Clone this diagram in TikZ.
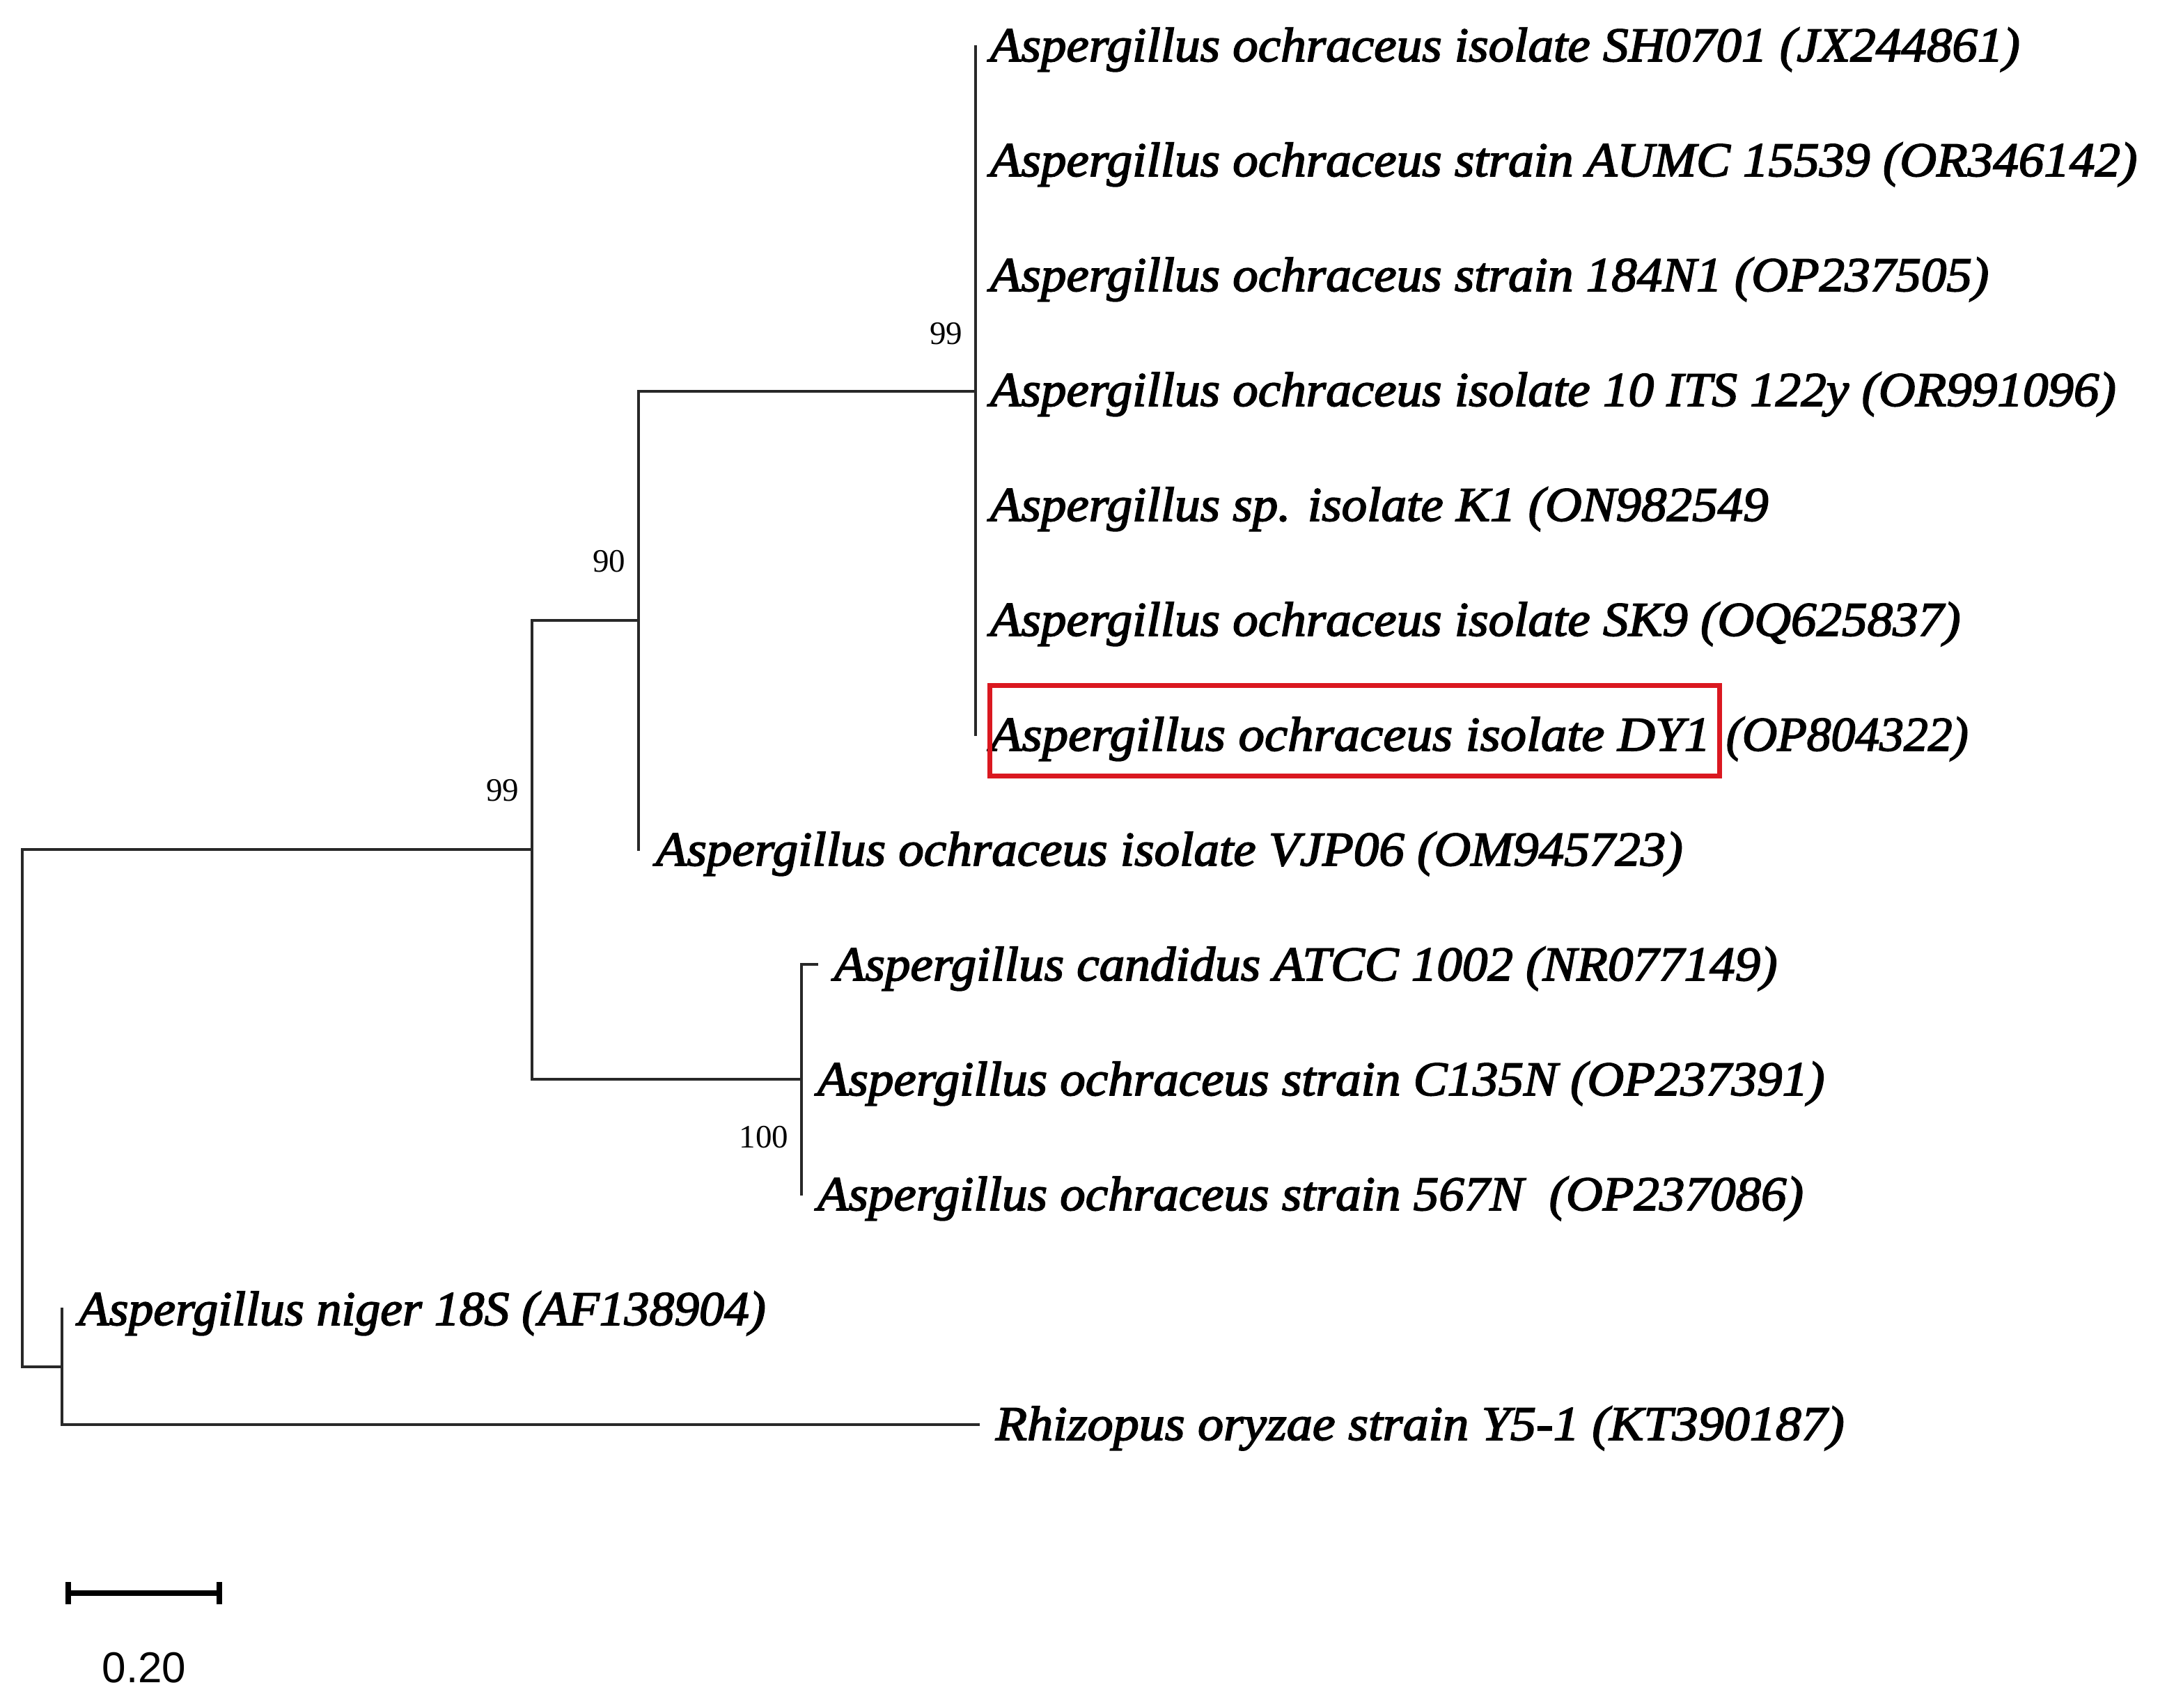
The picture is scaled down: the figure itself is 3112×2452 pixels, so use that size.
\documentclass[tikz,border=0pt]{standalone}
\usepackage{fontspec}
\newfontfamily\labfont{Liberation Serif}[FakeStretch=1.05,FakeBold=2.5]
\newfontfamily\bootfont{Liberation Serif}
\newfontfamily\sbarfont{Liberation Sans}
\definecolor{boxred}{RGB}{218,24,32}
\definecolor{treeline}{RGB}{40,40,40}
\begin{document}
\begin{tikzpicture}[x=0.25pt,y=-0.25pt,
  branch/.style={line width=0.9pt, draw=treeline, line cap=rect, line join=miter},
  leaf/.style={anchor=base west, inner sep=0pt, font=\labfont\itshape\fontsize{17.4}{17.4}\selectfont},
  boot/.style={anchor=east, inner sep=0pt, font=\bootfont\fontsize{11.75}{11.75}\selectfont},
  hlbox/.style={draw=boxred, line width=1.75pt},
  sbar/.style={line width=2pt, draw=black}]
\fill[white] (0,0) rectangle (3112,2452);
\useasboundingbox (0,0) rectangle (3112,2452);
% tree nodes
\coordinate (r) at (32,1220);
\coordinate (rb) at (32,1963);
\coordinate (n99) at (764,1220);
\coordinate (n99t) at (764,891);
\coordinate (n99b) at (764,1550);
\coordinate (n90) at (917,891);
\coordinate (n90t) at (917,562);
\coordinate (n90b) at (917,1220);
\coordinate (nA) at (1401,562);
\coordinate (nAt) at (1401,67);
\coordinate (nAb) at (1401,1055);
\coordinate (nC) at (1151,1550);
\coordinate (nCt) at (1151,1385);
\coordinate (nCb) at (1151,1715);
\coordinate (cand) at (1173,1385);
\coordinate (nO) at (89,1963);
\coordinate (nOt) at (89,1880);
\coordinate (nOb) at (89,2046);
\coordinate (rhi) at (1405,2046);
% branches
\draw[branch] (n99) -- (r) -- (rb) -- (nO);
\draw[branch] (n99t) -- (n99b);
\draw[branch] (n99t) -- (n90);
\draw[branch] (n99b) -- (nC);
\draw[branch] (n90t) -- (n90b);
\draw[branch] (n90t) -- (nA);
\draw[branch] (nAt) -- (nAb);
\draw[branch] (nCt) -- (nCb);
\draw[branch] (nCt) -- (cand);
\draw[branch] (nOt) -- (nOb) -- (rhi);
% leaf labels
\node[leaf] (L0) at (1421,88) {Aspergillus ochraceus isolate SH0701 (JX244861)};
\node[leaf] (L1) at (1421,253) {Aspergillus ochraceus strain AUMC 15539 (OR346142)};
\node[leaf] (L2) at (1421,418) {Aspergillus ochraceus strain 184N1 (OP237505)};
\node[leaf] (L3) at (1421,583) {Aspergillus ochraceus isolate 10 ITS 122y (OR991096)};
\node[leaf] (L4) at (1421,748) {Aspergillus sp. isolate K1 (ON982549};
\node[leaf] (L5) at (1421,913) {Aspergillus ochraceus isolate SK9 (OQ625837)};
\node[leaf] (L6) at (1421,1078) {\addfontfeature{FakeStretch=1.075}Aspergillus ochraceus isolate DY1};
\node[leaf] (L6a) at (2478,1078) {\addfontfeature{FakeStretch=1.0}(OP804322)};
\node[leaf] (L7) at (941,1243) {Aspergillus ochraceus isolate VJP06 (OM945723)};
\node[leaf] (L8) at (1197,1408) {Aspergillus candidus ATCC 1002 (NR077149)};
\node[leaf] (L9) at (1173,1573) {Aspergillus ochraceus strain C135N (OP237391)};
\node[leaf] (L10) at (1173,1738) {Aspergillus ochraceus strain 567N\ \ (OP237086)};
\node[leaf] (L11) at (112,1903) {\addfontfeature{FakeStretch=1.03}Aspergillus niger 18S (AF138904)};
\node[leaf] (L12) at (1429,2068) {\addfontfeature{FakeStretch=1.065}Rhizopus oryzae strain Y5-1 (KT390187)};
% highlight box
\draw[hlbox] (1421,984) rectangle (2469,1114);
% bootstrap values
\node[boot] (b1) at (1383,479) {99};
\node[boot] (b2) at (899,806) {90};
\node[boot] (b3) at (746,1135) {99};
\node[boot] (b4) at (1133,1633) {100};
% scale bar
\coordinate (s0) at (98,2288);
\coordinate (s1) at (315,2288);
\draw[sbar] (s0) -- (s1);
\draw[sbar] ([yshift=-16*0.25pt]s0) -- ([yshift=16*0.25pt]s0);
\draw[sbar] ([yshift=-16*0.25pt]s1) -- ([yshift=16*0.25pt]s1);
\node[font=\sbarfont\fontsize{15.5}{15.5}\selectfont, inner sep=0pt] (sl) at (207,2395) {0.20};
\end{tikzpicture}
\end{document}
